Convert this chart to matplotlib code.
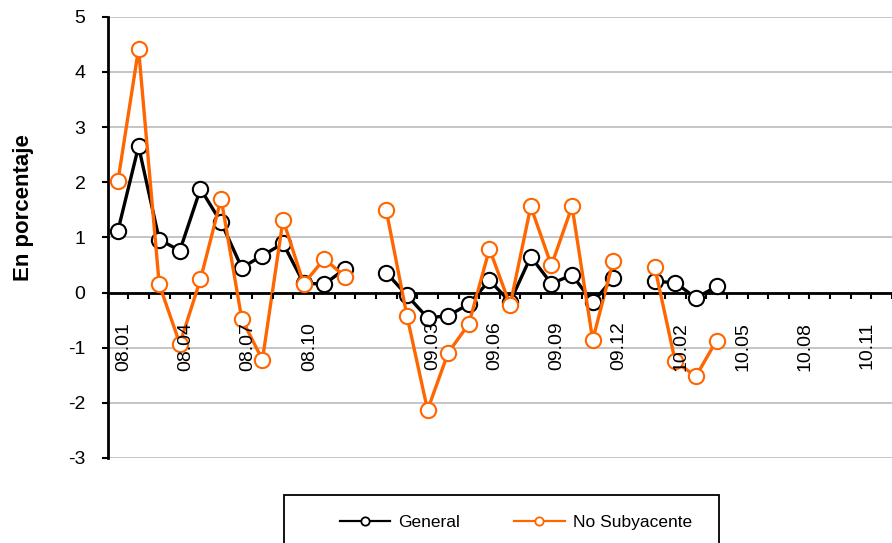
import numpy as np
import matplotlib.pyplot as plt
from matplotlib.lines import Line2D
from matplotlib.patches import Rectangle
from matplotlib.transforms import ScaledTranslation

plt.rcParams['font.family'] = ['Liberation Sans', 'DejaVu Sans']
plt.rcParams['axes.unicode_minus'] = False

# monthly categories, blank slot between years
months = ['01', '02', '03', '04', '05', '06', '07', '08', '09', '10', '11', '12']
categories = (['08.' + m for m in months] + [''] +
              ['09.' + m for m in months] + [''] +
              ['10.' + m for m in months])

general = [1.12, 2.65, 0.96, 0.76, 1.88, 1.27, 0.45, 0.67, 0.89, 0.17, 0.15, 0.43,
           None,
           0.36, -0.05, -0.46, -0.42, -0.21, 0.22, -0.17, 0.65, 0.16, 0.32, -0.18, 0.26,
           None,
           0.20, 0.18, -0.10, 0.11]
no_subyacente = [2.02, 4.42, 0.15, -0.93, 0.24, 1.70, -0.48, -1.22, 1.32, 0.16, 0.61, 0.29,
                 None,
                 1.49, -0.42, -2.13, -1.09, -0.57, 0.79, -0.23, 1.56, 0.49, 1.56, -0.86, 0.58,
                 None,
                 0.47, -1.25, -1.52, -0.87]

def padded(vals):
    out = np.full(len(categories), np.nan)
    out[:len(vals)] = [np.nan if v is None else v for v in vals]
    return out

x = np.arange(len(categories))
orange = '#FF6600'

fig = plt.figure(figsize=(8.92, 5.43), dpi=100)
ax = fig.add_axes([107.6 / 892, 1 - 458 / 543, (892 - 107.6) / 892, (458 - 16.7) / 543])

ax.plot(x, padded(general), color='black', lw=2.4, marker='o', ms=11,
        mfc='white', mec='black', mew=1.5, zorder=3)
ax.plot(x, padded(no_subyacente), color=orange, lw=2.4, marker='o', ms=11,
        mfc='white', mec=orange, mew=1.5, zorder=4)

ax.set_ylim(-3, 5)
ax.set_xlim(-0.5, -0.5 + (892 - 107.6) / 20.83)
ax.set_yticks(range(-3, 6))
ax.yaxis.grid(True, color='#C0C0C0', lw=1.3)

for s in ['top', 'right']:
    ax.spines[s].set_visible(False)
ax.spines['left'].set_linewidth(2)
ax.spines['bottom'].set_linewidth(2)
ax.spines['bottom'].set_position(('data', 0))
ax.spines['bottom'].set_zorder(2)
ax.xaxis.set_zorder(5)
ax.yaxis.set_zorder(1)

ax.tick_params(axis='y', direction='out', length=4, width=1.5, pad=12, labelsize=14)

# tick marks at category boundaries, labels every third month
ax.set_xticks(np.arange(-0.5, len(categories), 1))
ax.set_xticklabels([])
ax.tick_params(axis='x', which='major', direction='out', length=4, width=1.5)
lab_pos = x[::3]
ax.set_xticks(lab_pos, minor=True)
ax.set_xticklabels([categories[i] for i in lab_pos], minor=True, rotation=90)
ax.tick_params(axis='x', which='minor', length=0, pad=21, labelsize=14)
shift = ScaledTranslation(4 / 72, 0, fig.dpi_scale_trans)
for lab in ax.xaxis.get_minorticklabels():
    lab.set_transform(lab.get_transform() + shift)

fig.text(24 / 892, 1 - 208 / 543, 'En porcentaje', rotation=90, fontsize=16,
         fontweight='bold', ha='center', va='center')

# legend
handles = [Line2D([], [], color='black', lw=1.6, marker='o', ms=6, mfc='white', mec='black', mew=1.3),
           Line2D([], [], color=orange, lw=1.6, marker='o', ms=6, mfc='white', mec=orange, mew=1.3)]
fig.legend(handles, ['General', 'No Subyacente'], ncol=2, loc='center',
           bbox_to_anchor=(516 / 892, 1 - 522 / 543), frameon=False, fontsize=12.5,
           handlelength=2.9, handletextpad=0.5, columnspacing=3.1, borderpad=0)
fig.patches.append(Rectangle((284 / 892, -20 / 543), 435 / 892, 68 / 543,
                             transform=fig.transFigure, fill=False, ec='black', lw=1.3))

fig.savefig('out.png', dpi=100)
